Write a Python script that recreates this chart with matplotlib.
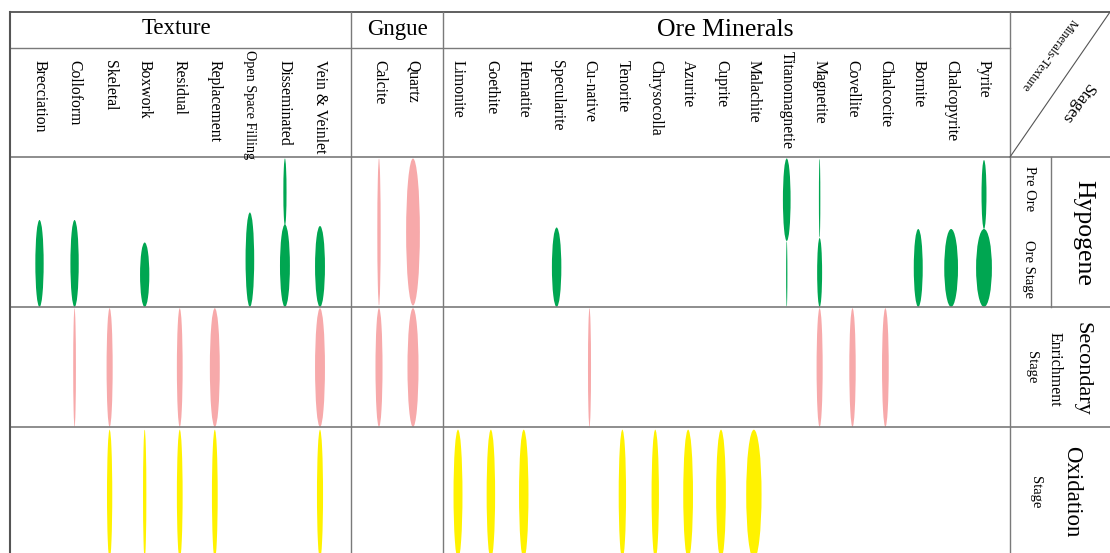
import matplotlib.pyplot as plt
from matplotlib.patches import Ellipse

plt.rcParams['font.family'] = ['Liberation Serif', 'DejaVu Serif']

# Minerals / textures (column order as in the chart)
texture = ['Brecciation', 'Colloform', 'Skeletal', 'Boxwork', 'Residual',
           'Replacement', 'Open Space Filling', 'Disseminated', 'Vein & Veinlet']
gangue = ['Calcite', 'Quartz']
ore = ['Limonite', 'Goethite', 'Hematite', 'Specularite', 'Cu-native', 'Tenorite',
       'Chrysocolla', 'Azurite', 'Cuprite', 'Malachite', 'Titanomagnetie',
       'Magnetite', 'Covellite', 'Chalcocite', 'Bornite', 'Chalcopyrite', 'Pyrite']

# Hypogene stage: (name, start, end, abundance); start/end = fraction of the stage (0 = earliest)
hypogene = [
    ('Brecciation', 0.42, 1.0, 5.2), ('Colloform', 0.42, 1.0, 5.2),
    ('Boxwork', 0.57, 1.0, 5.8), ('Open Space Filling', 0.37, 1.0, 5.4),
    ('Disseminated', 0.01, 0.46, 2.0), ('Disseminated', 0.45, 1.0, 6.2),
    ('Vein & Veinlet', 0.46, 1.0, 6.2),
    ('Calcite', 0.01, 0.99, 2.1), ('Quartz', 0.01, 0.99, 8.6),
    ('Specularite', 0.47, 1.0, 5.9),
    ('Titanomagnetie', 0.01, 0.56, 4.8), ('Titanomagnetie', 0.56, 1.0, 0.8),
    ('Magnetite', 0.01, 0.54, 0.9), ('Magnetite', 0.54, 1.0, 3.1),
    ('Bornite', 0.48, 1.0, 5.6), ('Chalcopyrite', 0.48, 1.0, 8.6),
    ('Pyrite', 0.02, 0.48, 3.1), ('Pyrite', 0.48, 1.0, 9.9),
]
# Secondary enrichment and oxidation stages: (name, abundance), whole stage
secondary = [('Colloform', 1.7), ('Skeletal', 3.8), ('Residual', 3.6),
             ('Replacement', 6.2), ('Vein & Veinlet', 6.2), ('Calcite', 4.4),
             ('Quartz', 6.9), ('Cu-native', 1.9), ('Magnetite', 3.8),
             ('Covellite', 4.0), ('Chalcocite', 4.2)]
oxidation = [('Skeletal', 3.3), ('Boxwork', 2.1), ('Residual', 3.6),
             ('Replacement', 3.6), ('Vein & Veinlet', 3.8), ('Limonite', 5.6),
             ('Goethite', 5.3), ('Hematite', 5.9), ('Tenorite', 4.6),
             ('Chrysocolla', 4.6), ('Azurite', 6.1), ('Cuprite', 6.1),
             ('Malachite', 9.6)]

GREEN, PINK, YELLOW = '#00a651', '#f7a9aa', '#fff200'
LINE = '#7a7a7a'

# layout (pixel-like coordinates)
W, H = 1110, 553
rows = [157, 307, 427, 562]       # stage row boundaries
xcol = {}
for names, x0, x1 in [(texture, 39.5, 320), (gangue, 379, 413), (ore, 458, 984)]:
    step = (x1 - x0) / (len(names) - 1)
    for i, n in enumerate(names):
        xcol[n] = x0 + i * step

fig = plt.figure(figsize=(W / 100, H / 100), dpi=100)
ax = fig.add_axes([0, 0, 1, 1])
ax.set_xlim(0, W)
ax.set_ylim(H, 0)
ax.axis('off')


def blob(name, row, start, end, ab, color):
    top, bot = rows[row], rows[row + 1]
    y0 = top + start * (bot - top)
    y1 = top + end * (bot - top)
    ax.add_patch(Ellipse((xcol[name], (y0 + y1) / 2), ab * 1.6, y1 - y0,
                         facecolor=color, edgecolor='none'))


for n, s, e, a in hypogene:
    blob(n, 0, s, e, a, GREEN if n not in gangue else PINK)
for n, a in secondary:
    blob(n, 1, 0.01, 1.0, a, PINK)
for n, a in oxidation:
    blob(n, 2, 0.02, 0.98, a, YELLOW)

# grid lines
for y in [157, 307, 427]:
    ax.plot([10, W], [y, y], color=LINE, lw=1.2)
ax.plot([10, W], [12, 12], color='#444444', lw=1.2)
ax.plot([10, 1010], [48, 48], color=LINE, lw=1.0)
ax.plot([10, 10], [12, H], color='#555555', lw=1.5)
for x in [351, 443, 1010]:
    ax.plot([x, x], [12, H], color=LINE, lw=1.0)
ax.plot([1051, 1051], [157, 307], color=LINE, lw=1.0)
ax.plot([1010, W], [157, 12], color='#555555', lw=0.8)

# group titles
ax.text(176, 29, 'Texture', fontsize=16.5, ha='center', va='center')
ax.text(397, 29, 'Gngue', fontsize=16.5, ha='center', va='center')
ax.text(725, 30, 'Ore Minerals', fontsize=18.5, ha='center', va='center')

# column labels
for n in texture + gangue + ore:
    size, top = 11.3, 60
    if n == 'Open Space Filling':
        size, top = 10.2, 50
    elif n == 'Titanomagnetie':
        top = 51
    ax.text(xcol[n], top, n, fontsize=size, rotation=270, ha='center', va='top')

# corner cell
ax.text(1049, 55, 'Minerals-Texture', fontsize=9, rotation=-126,
        ha='center', va='center')
ax.text(1077, 103, 'Stages', fontsize=12.5, rotation=-126, ha='center', va='center')

# stage labels
ax.text(1029, 189, 'Pre Ore', fontsize=10.5, rotation=270, ha='center', va='center')
ax.text(1029, 269, 'Ore Stage', fontsize=10.5, rotation=270, ha='center', va='center')
ax.text(1083, 233, 'Hypogene', fontsize=18.5, rotation=270, ha='center', va='center')
ax.text(1082, 369, 'Secondary', fontsize=16, rotation=270, ha='center', va='center')
ax.text(1055, 369, 'Enrichment', fontsize=11.5, rotation=270, ha='center', va='center')
ax.text(1032, 367, 'Stage', fontsize=10.5, rotation=270, ha='center', va='center')
ax.text(1072, 492, 'Oxidation', fontsize=16.5, rotation=270, ha='center', va='center')
ax.text(1035, 492, 'Stage', fontsize=10.5, rotation=270, ha='center', va='center')

fig.savefig('out.png', dpi=100)
